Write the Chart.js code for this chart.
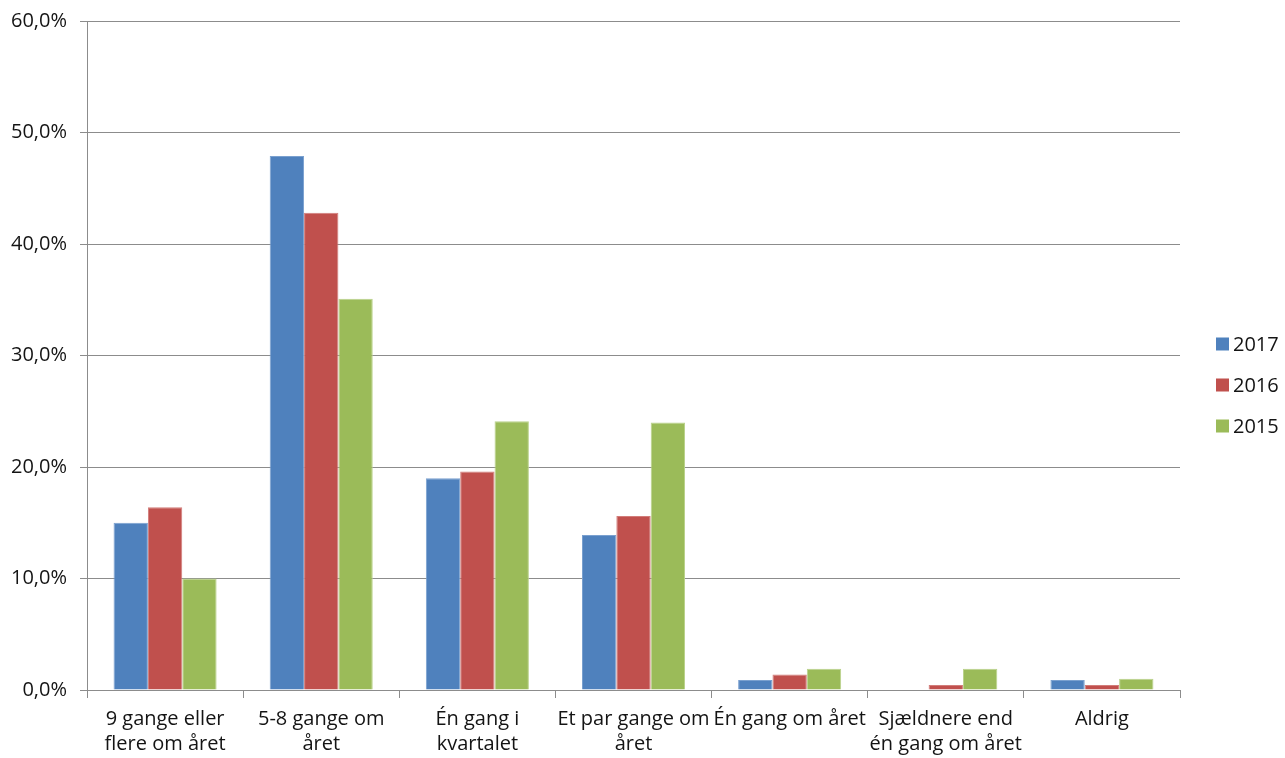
<!DOCTYPE html>
<html>
<head>
<meta charset="utf-8">
<script src="https://cdn.jsdelivr.net/npm/chart.js@4"></script>
<style>
  html, body { margin: 0; padding: 0; background: #ffffff; }
  #wrap { position: relative; width: 1285px; height: 758px; }
</style>
</head>
<body>
<div id="wrap"><canvas id="chart"></canvas></div>
<script>
// Categories (two-line labels)
const categories = [
  ['9 gange eller', 'flere om året'],
  ['5-8 gange om', 'året'],
  ['Én gang i', 'kvartalet'],
  ['Et par gange om', 'året'],
  ['Én gang om året'],
  ['Sjældnere end', 'én gang om året'],
  ['Aldrig']
];

// Share of respondents, percent
const values2017 = [15.0, 47.9, 19.0, 13.9, 0.9, 0.0, 0.9];
const values2016 = [16.4, 42.8, 19.6, 15.6, 1.4, 0.45, 0.45];
const values2015 = [10.0, 35.1, 24.1, 24.0, 1.9, 1.9, 1.0];

const seriesLabels = ['2017', '2016', '2015'];
const yTickLabels = ['0,0%', '10,0%', '20,0%', '30,0%', '40,0%', '50,0%', '60,0%'];

const FONT = "'Open Sans', 'DejaVu Sans', sans-serif";
const TEXT = '#141414';

// Legend drawn in the right margin
const sideLegend = {
  id: 'sideLegend',
  afterDraw(chart) {
    const ctx = chart.ctx;
    const ds = chart.data.datasets;
    const x = 1216, box = 13, gap = 41;
    const startY = chart.chartArea.top + 323;
    ctx.save();
    ctx.font = '20px ' + FONT;
    ctx.textBaseline = 'middle';
    ctx.textAlign = 'left';
    ds.forEach((d, i) => {
      const y = startY + i * gap;
      ctx.fillStyle = d.backgroundColor;
      ctx.fillRect(x, y - box / 2, box, box);
      ctx.fillStyle = TEXT;
      ctx.fillText(d.label, x + box + 4, y + 1);
    });
    ctx.restore();
  }
};

const colors = ['#4f81bd', '#c0504d', '#9bbb59'];
const borders = ['#7aa0cf', '#d27c79', '#b9d28a'];
const seriesValues = [values2017, values2016, values2015];

new Chart(document.getElementById('chart'), {
  type: 'bar',
  data: {
    labels: categories,
    datasets: seriesLabels.map((label, i) => ({
      label,
      data: seriesValues[i],
      backgroundColor: colors[i],
      borderColor: borders[i],
      borderWidth: { top: 1, left: 1, right: 1, bottom: 0 },
      barPercentage: 1.0,
      categoryPercentage: 0.66
    }))
  },
  options: {
    responsive: true,
    maintainAspectRatio: false,
    animation: false,
    layout: { padding: { left: -2, right: 105, top: 4, bottom: -8 } },
    plugins: {
      legend: { display: false },
      tooltip: { enabled: false }
    },
    scales: {
      x: {
        grid: {
          offset: true,
          drawOnChartArea: false,
          drawTicks: true,
          tickLength: 8,
          color: '#8c8c8c',
          lineWidth: 1
        },
        border: { color: '#8c8c8c', width: 1 },
        ticks: {
          color: TEXT,
          font: { family: FONT, size: 20, lineHeight: 1.25 },
          padding: 9,
          maxRotation: 0,
          autoSkip: false
        }
      },
      y: {
        min: 0,
        max: 60,
        ticks: {
          stepSize: 10,
          color: TEXT,
          font: { family: FONT, size: 20, lineHeight: 0.8 },
          padding: 13,
          callback: (v) => yTickLabels[Math.round(v / 10)]
        },
        grid: {
          color: '#8c8c8c',
          lineWidth: 1,
          tickLength: 7,
          drawTicks: true
        },
        border: { color: '#8c8c8c', width: 1 }
      }
    }
  },
  plugins: [sideLegend]
});
</script>
</body>
</html>
